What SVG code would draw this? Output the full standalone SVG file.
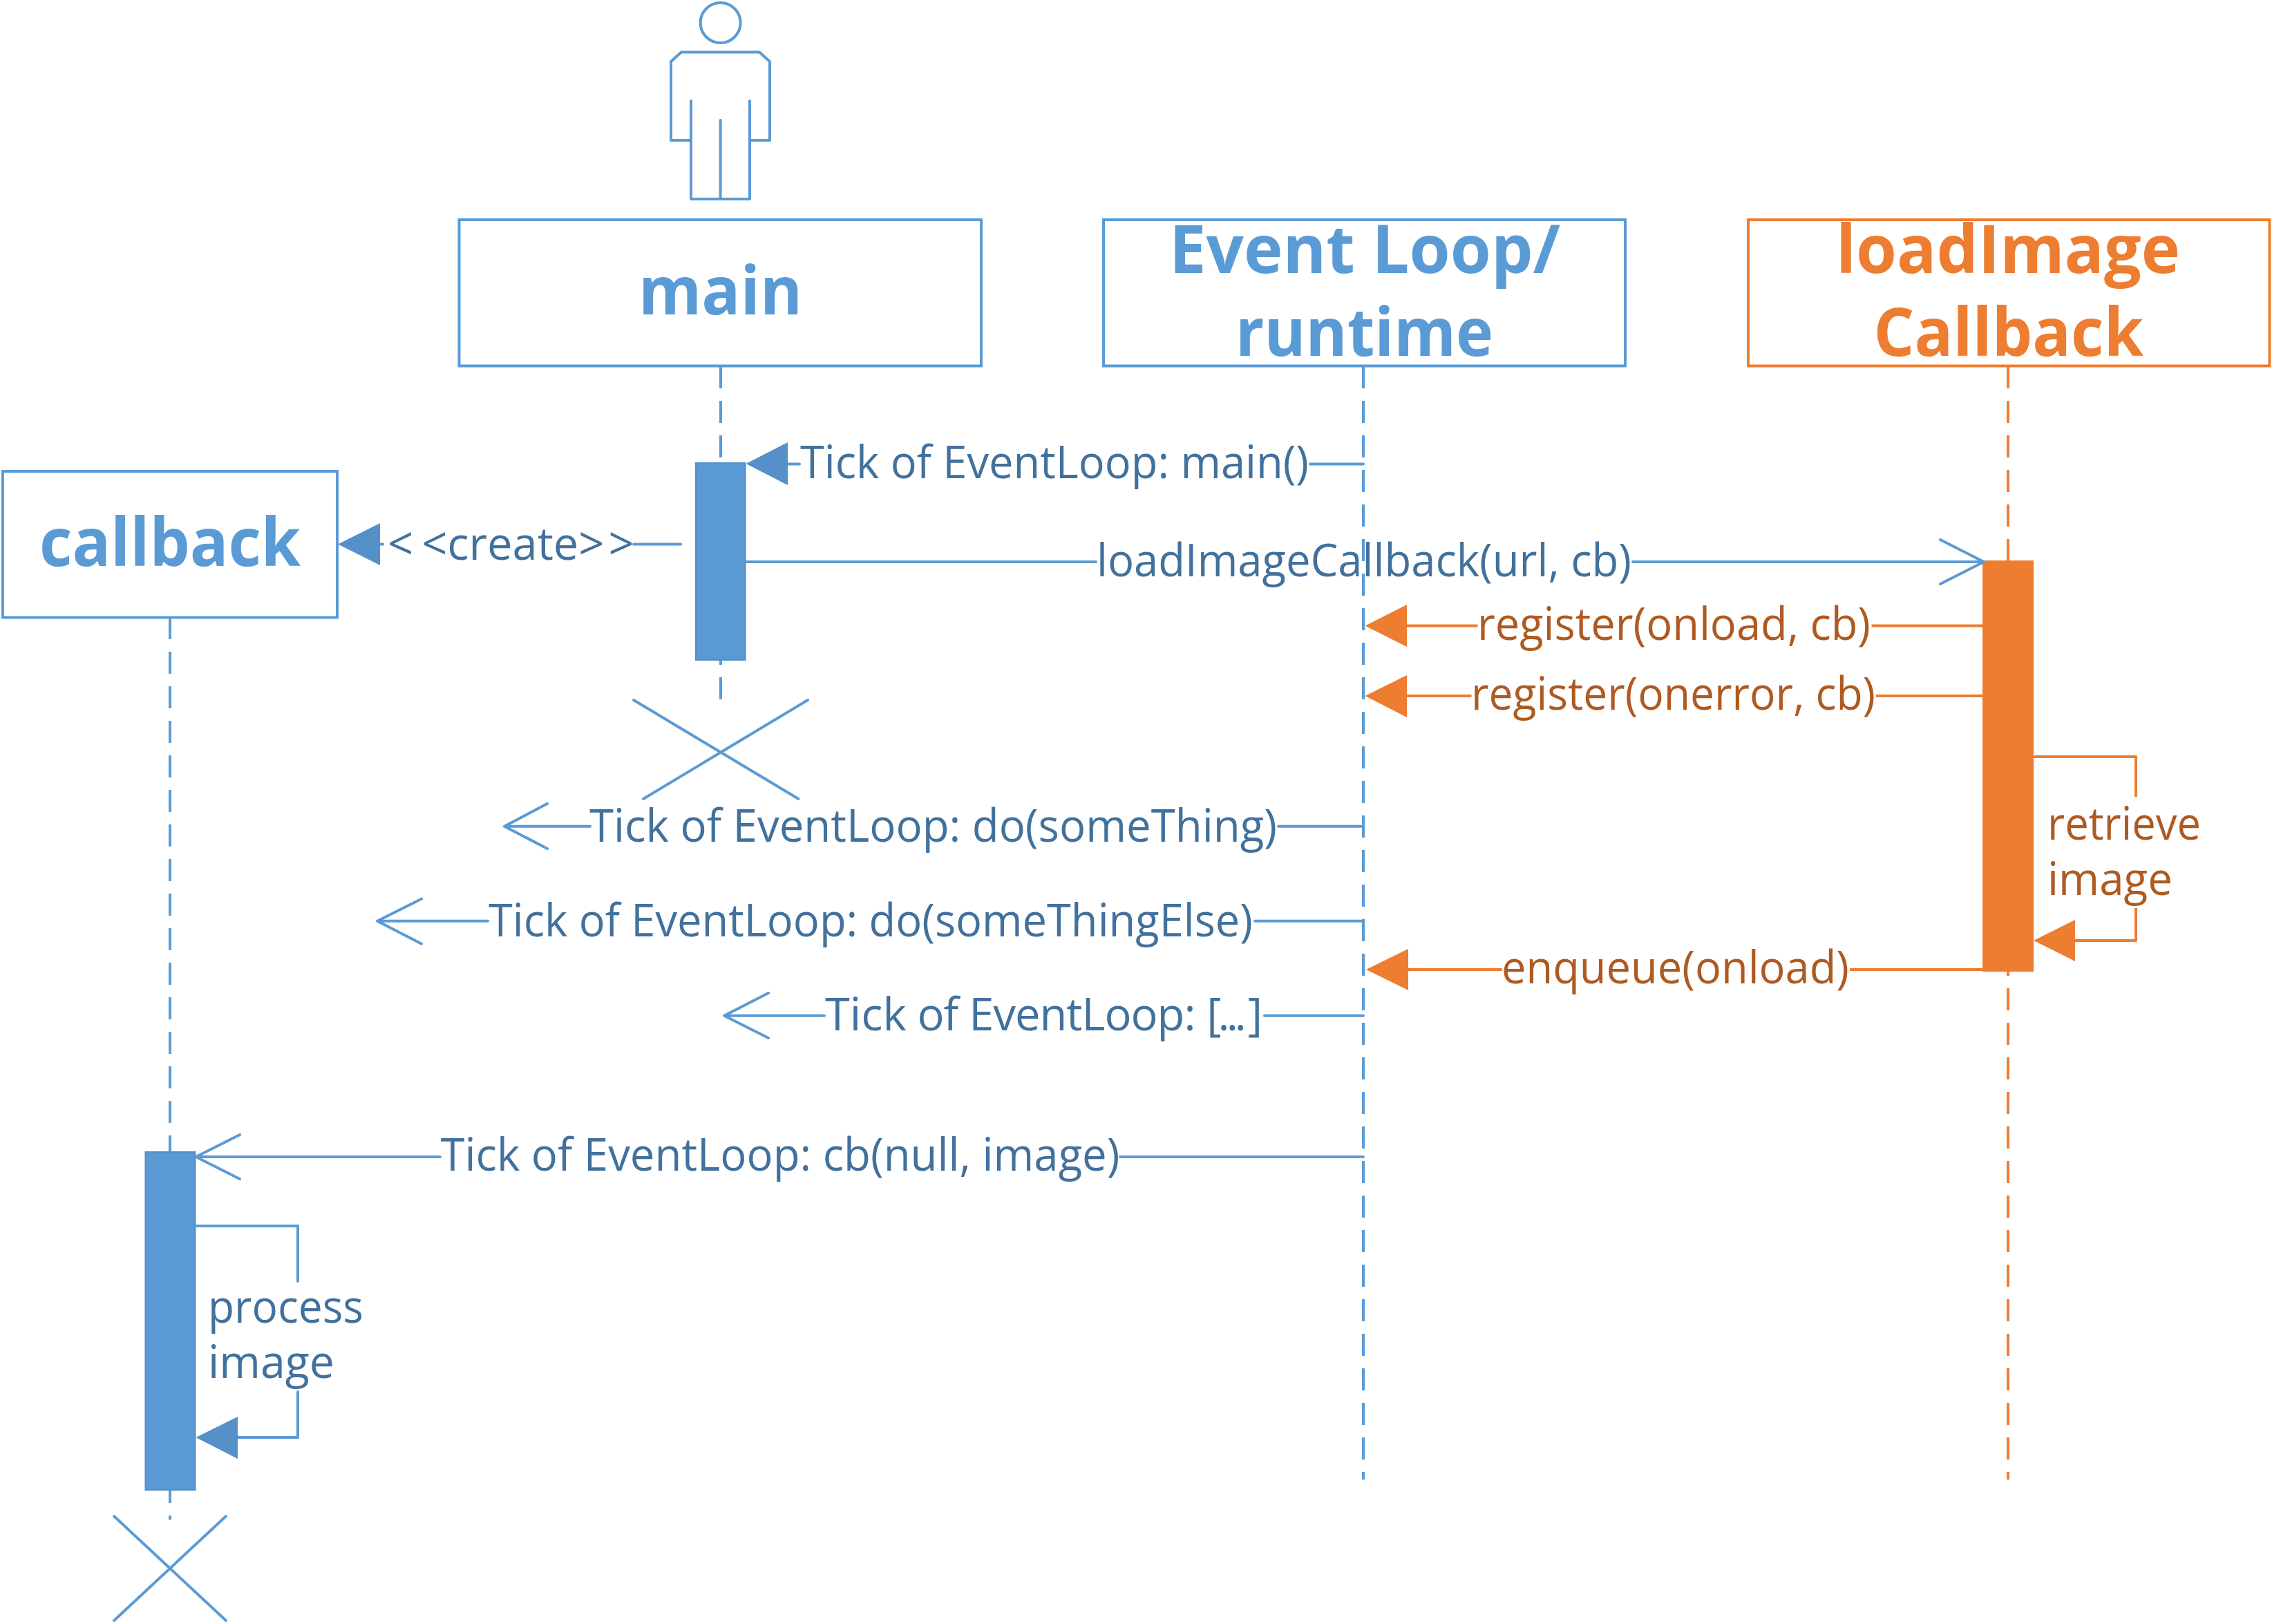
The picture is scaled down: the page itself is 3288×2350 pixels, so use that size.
<svg xmlns="http://www.w3.org/2000/svg" width="3288" height="2350" viewBox="0 0 3288 2350">
<style>
text{font-family:"Open Sans","Noto Sans","Liberation Sans",sans-serif;}
.t{font-size:65px;font-weight:400;}
.h{font-size:96px;font-weight:700;}
.tb{fill:#41719C;}
.to{fill:#AE5A21;}
.hb{fill:#5B9BD5;}
.ho{fill:#ED7D31;}
.box{fill:#fff;stroke-width:4;}
.sb{stroke:#5B9BD5;fill:none;stroke-width:4;stroke-linecap:round;stroke-linejoin:round;}
.so{stroke:#ED7D31;fill:none;stroke-width:4;stroke-linecap:butt;stroke-linejoin:round;}
.life{stroke-width:4;stroke-dasharray:32 18;stroke-linecap:butt;fill:none;}
.ab{fill:#5590C8;stroke:none;}
.ao{fill:#ED7D31;stroke:none;}
.actb{fill:#5B9BD5;stroke:#5592CB;stroke-width:3;}
.acto{fill:#ED7D31;stroke:#ED7D31;stroke-width:3;}
</style>
<rect width="3288" height="2350" fill="#fff"/>

<g id="lifelines">
<path class="life" stroke="#5B9BD5" d="M1043 530V1012"/>
<path class="life" stroke="#5B9BD5" d="M246 893V2199"/>
<path class="life" stroke="#5B9BD5" d="M1973 530V2141"/>
<path class="life" stroke="#ED7D31" d="M2906 530V2141"/>
</g>

<g id="actor-main">
<circle class="sb" cx="1042.6" cy="33" r="29"/>
<path class="sb" d="M1000 203H971V89L986 75.500H1099L1114 89V203H1085"/>
<path class="sb" d="M1000 146V288H1085V146"/>
<path class="sb" d="M1042.600 174V288"/>
</g>

<g id="node-main">
<rect class="box" stroke="#5B9BD5" x="664.500" y="318" width="755.500" height="211.500"/>
<text class="h hb" x="924" y="455" textLength="237" lengthAdjust="spacingAndGlyphs">main</text>
</g>
<g id="node-eventloop">
<rect class="box" stroke="#5B9BD5" x="1597" y="318" width="755" height="211.500"/>
<text class="h hb" x="1692" y="395" textLength="566" lengthAdjust="spacingAndGlyphs">Event Loop/</text>
<text class="h hb" x="1788" y="515" textLength="373" lengthAdjust="spacingAndGlyphs">runtime</text>
</g>
<g id="node-loadimage">
<rect class="box" stroke="#ED7D31" x="2530" y="318" width="754.500" height="211.500"/>
<text class="h ho" x="2657" y="395" textLength="498" lengthAdjust="spacingAndGlyphs">loadImage</text>
<text class="h ho" x="2711.500" y="515" textLength="390.500" lengthAdjust="spacingAndGlyphs">Callback</text>
</g>
<g id="node-callback">
<rect class="box" stroke="#5B9BD5" x="4" y="682" width="484" height="211.500"/>
<text class="h hb" x="57" y="819" textLength="378" lengthAdjust="spacingAndGlyphs">callback</text>
</g>

<g id="activation-main"><rect class="actb" x="1007.500" y="670.500" width="70.500" height="284"/></g>
<g id="activation-callback"><rect class="actb" x="211" y="1667.500" width="71" height="488"/></g>
<g id="activation-loadimage"><rect class="acto" x="2870.500" y="812.500" width="71" height="592"/></g>

<g id="connectors">
<!-- Tick: main() -->
<path class="sb" d="M1140 671.500H1157M1896 671.500H1973" stroke-linecap="butt"/>
<polygon class="ab" points="1079.600,671 1140,640 1140,702"/>
<text class="t tb" x="1158" y="692" textLength="736" lengthAdjust="spacingAndGlyphs">Tick of EventLoop: main()</text>
<!-- create -->
<path class="sb" d="M550 787.500H554M917 787.500H985"/>
<polygon class="ab" points="489,787.500 550,757 550,818"/>
<text class="t tb" x="561" y="809.500" dx="0 12 0 0 0 0 0 0 0 6">&lt;&lt;create&gt;&gt;</text>
<!-- loadImageCallback -->
<path class="sb" d="M1079.600 813H1586M2363 813H2869M2808 781L2871 813L2808 845"/>
<text class="t tb" x="1587" y="834" textLength="774" lengthAdjust="spacingAndGlyphs">loadImageCallback(url, cb)</text>
<!-- register onload -->
<path class="so" d="M2036 905.600H2138.500M2708.500 905.600H2870"/>
<polygon class="ao" points="1975.500,905.600 2036,875 2036,936"/>
<text class="t to" x="2138" y="925.500" textLength="569" lengthAdjust="spacingAndGlyphs">register(onload, cb)</text>
<!-- register onerror -->
<path class="so" d="M2036 1007H2129.500M2715 1007H2870"/>
<polygon class="ao" points="1975.500,1007 2036,977 2036,1038"/>
<text class="t to" x="2129" y="1027" textLength="585" lengthAdjust="spacingAndGlyphs">register(onerror, cb)</text>
<!-- retrieve image -->
<path class="so" d="M2943 1095H3091V1153M3091 1314V1361H3003"/>
<polygon class="ao" points="2943,1361 3003,1331 3003,1391"/>
<text class="t to" x="2963" y="1215" textLength="222" lengthAdjust="spacingAndGlyphs">retrieve</text>
<text class="t to" x="2963" y="1295" textLength="181" lengthAdjust="spacingAndGlyphs">image</text>
<!-- enqueue -->
<path class="so" d="M2038 1403H2173.600M2677 1403H2870"/>
<polygon class="ao" points="1977,1403 2038,1373 2038,1433"/>
<text class="t to" x="2173" y="1423" textLength="503" lengthAdjust="spacingAndGlyphs">enqueue(onload)</text>
<!-- do(someThing) -->
<path class="sb" d="M792 1163L730 1195.700L792 1228M730 1195.700H854M1850 1195.700H1973"/>
<text class="t tb" x="853" y="1218" textLength="995" lengthAdjust="spacingAndGlyphs">Tick of EventLoop: do(someThing)</text>
<!-- do(someThingElse) -->
<path class="sb" d="M610 1300.700L546 1332.700L610 1365.700M546 1332.700H706M1816 1332.700H1973"/>
<text class="t tb" x="707" y="1354.700" textLength="1106" lengthAdjust="spacingAndGlyphs">Tick of EventLoop: do(someThingElse)</text>
<!-- [...] -->
<path class="sb" d="M1112 1437L1048 1469.700L1112 1502M1048 1469.700H1193M1830 1469.700H1973"/>
<text class="t tb" x="1194" y="1491" dx="0 0 0 0 0 -1 -1 -1 -1 -1 -1 -1 -1 -1 -1 -1 -1 -1 0 -1 -5 -5 -5 2">Tick of EventLoop: [...]</text>
<!-- cb(null, image) -->
<path class="sb" d="M347 1642L283.500 1674L347 1706M283.500 1674H637M1621 1674H1973"/>
<text class="t tb" x="637.500" y="1694" textLength="983" lengthAdjust="spacingAndGlyphs">Tick of EventLoop: cb(null, image)</text>
<!-- process image -->
<path class="sb" d="M283.500 1774H431V1854M431 2014V2080H344"/>
<polygon class="ab" points="283.500,2080 344,2050 344,2111"/>
<text class="t tb" x="301" y="1914" textLength="225" lengthAdjust="spacingAndGlyphs">process</text>
<text class="t tb" x="301" y="1994" textLength="183" lengthAdjust="spacingAndGlyphs">image</text>
</g>

<g id="destroy-main"><path class="sb" d="M917 1013L1155.500 1156M1169 1013L931 1156"/></g>
<g id="destroy-callback"><path class="sb" d="M165 2194L327 2345M327 2194L165 2345"/></g>
</svg>
